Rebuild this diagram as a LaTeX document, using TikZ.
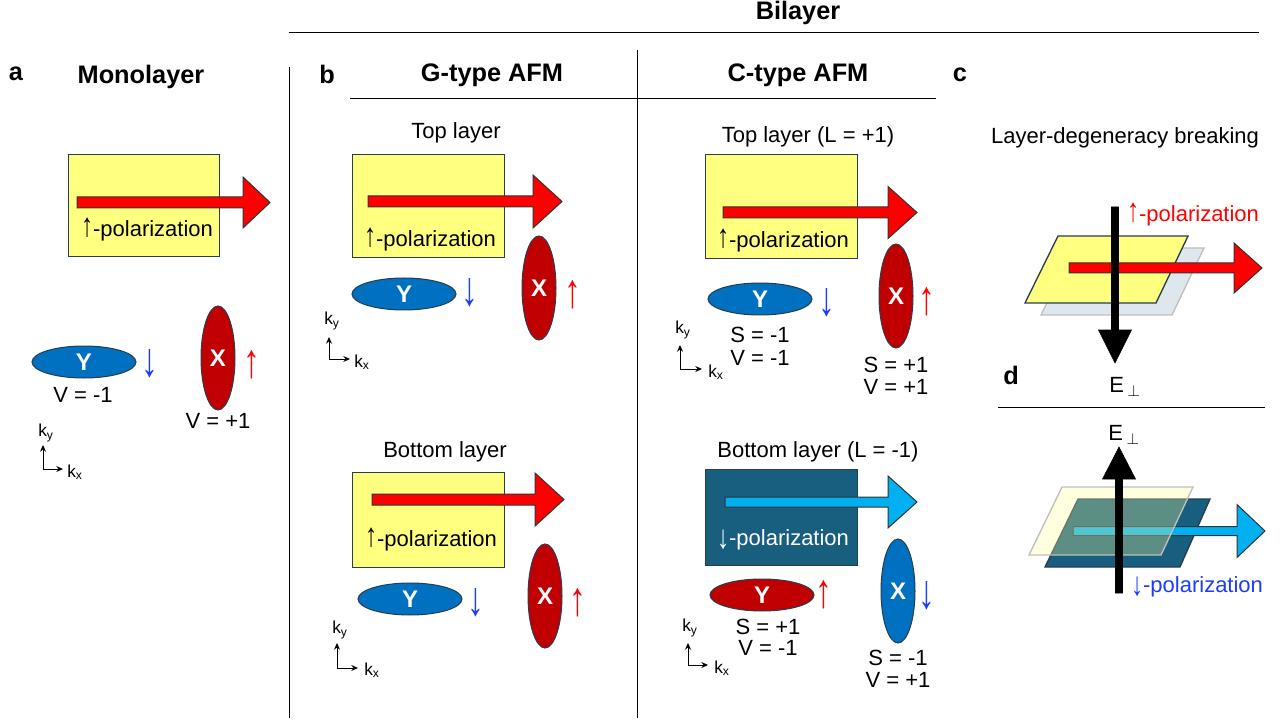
\documentclass[tikz,border=0pt]{standalone}
\usepackage{fontspec}
\setmainfont{Liberation Sans}
\usetikzlibrary{shapes.geometric,arrows.meta}
\definecolor{ylw}{RGB}{255,255,128}
\definecolor{bord}{RGB}{40,62,78}
\definecolor{ered}{RGB}{192,0,0}
\definecolor{eblue}{RGB}{0,112,192}
\definecolor{tblue}{RGB}{26,60,255}
\definecolor{ared}{RGB}{255,0,0}
\definecolor{dteal}{RGB}{23,94,127}
\definecolor{acyan}{RGB}{0,176,240}
\definecolor{pgray}{RGB}{222,230,238}
\definecolor{pgrayb}{RGB}{191,191,191}
\definecolor{lyel}{RGB}{255,255,150}
\newcommand{\blockarr}[7]{%
  \draw[#1] (#2,#3-#6) -- (#4,#3-#6) -- (#4,#3-#7) -- (#5,#3) -- (#4,#3+#7) -- (#4,#3+#6) -- (#2,#3+#6) -- cycle;}
\newcommand{\upa}{\scalebox{1.1}[1.5]{↑}}
\newcommand{\dna}{\raisebox{-0.1em}{\scalebox{1.1}[1.5]{↓}}}
\newcommand{\bigup}{\scalebox{1.4}[2.0]{↑}}
\newcommand{\bigdn}{\scalebox{1.4}[2.0]{↓}}
\begin{document}
\begin{tikzpicture}[x=0.75pt,y=-0.75pt,
  lbl/.style={font=\fontsize{16.5}{18}\selectfont, inner sep=0},
  hdr/.style={font=\fontsize{19}{22}\selectfont\bfseries, inner sep=0},
  ybox/.style={draw=bord, fill=ylw, line width=0.75pt, inner sep=0},
  dbox/.style={draw=bord, fill=dteal, line width=0.75pt, inner sep=0},
  ell/.style={ellipse, draw=bord, line width=0.75pt, inner sep=0, text=white, font=\fontsize{18}{20}\selectfont\bfseries},
  hell/.style={ell, minimum width=78pt, minimum height=24pt},
  vell/.style={ell, minimum width=25.5pt, minimum height=78pt},
  sym/.style={font=\fontsize{18}{20}\selectfont, inner sep=0},
  kax/.style={-{Stealth[length=5pt,width=4.5pt]}, line width=0.75pt},
  kl/.style={font=\fontsize{13}{15}\selectfont, inner sep=0},
  rule/.style={line width=0.75pt},
  redarr/.style={draw=black!80, fill=ared, line width=0.75pt},
  cyanarr/.style={draw=black!80, fill=acyan, line width=0.75pt},
  blkarr/.style={fill=black}
]
\useasboundingbox (0,0) rectangle (1285,720);

% ---------- headers and rules ----------
\node[hdr] (bil) at (798,13) {Bilayer};
\draw[rule] (289,33) -- (1259,33);
\draw[rule] (289,67) -- (289,718);
\draw[rule] (637,50) -- (637,718);
\draw[rule] (350,99) -- (936,99);
\draw[rule] (998,407) -- (1265,407);
\node[hdr] (la) at (16,74) {a};
\node[hdr] (mono) at (141,77) {Monolayer};
\node[hdr] (lb) at (327,74) {b};
\node[hdr] (gafm) at (492,75) {G-type AFM};
\node[hdr] (cafm) at (798,75) {C-type AFM};
\node[hdr] (lc) at (960,75) {c};

% ---------- panel a ----------
\node[ybox, minimum width=113.25pt, minimum height=76.5pt] (ra) at (143.5,206) {};
\blockarr{redarr}{77}{202.5}{243}{270}{5.5}{25.5}
\node[lbl] (pa) at (147,230) {\upa-polarization};
\node[hell, fill=eblue] (ya) at (84,362) {Y};
\node[sym, text=tblue] (yad) at (150,364) {\bigdn};
\node[lbl] (va1) at (83,395) {V = -1};
\node[vell, fill=ered] (xa) at (218,358) {X};
\node[sym, text=ared] (xau) at (252,365) {\bigup};
\node[lbl] (va2) at (218,421) {V = +1};
\coordinate (ao) at (43,469); \coordinate (ayy) at (43,445); \coordinate (axx) at (63,469);
\draw[kax] (ao) -- (ayy); \draw[kax] (ao) -- (axx);
\node[kl] (kya) at (46,433) {k\textsubscript{y}};
\node[kl] (kxa) at (75,472) {k\textsubscript{x}};

% ---------- panel b top ----------
\node[lbl] (tlg) at (456,133) {Top layer};
\node[ybox, minimum width=114pt, minimum height=77.25pt] (rbt) at (428,206.5) {};
\blockarr{redarr}{368}{201.5}{533}{562}{5.5}{26.5}
\node[lbl] (pbt) at (430,240) {\upa-polarization};
\node[hell, fill=eblue] (ybt) at (404,294) {Y};
\node[sym, text=tblue] (ybtd) at (470,293) {\bigdn};
\node[vell, fill=ered] (xbt) at (539,288) {X};
\node[sym, text=ared] (xbtu) at (573,295) {\bigup};
\coordinate (bo) at (329,359); \coordinate (byy) at (329,337); \coordinate (bxx) at (350,359);
\draw[kax] (bo) -- (byy); \draw[kax] (bo) -- (bxx);
\node[kl] (kyb) at (332,321) {k\textsubscript{y}};
\node[kl] (kxb) at (362,362) {k\textsubscript{x}};

% ---------- panel b bottom ----------
\node[lbl] (blg) at (445,452) {Bottom layer};
\node[ybox, minimum width=114pt, minimum height=71.25pt] (rbb) at (428,519.5) {};
\blockarr{redarr}{372}{499.5}{535}{564}{5.5}{26.5}
\node[lbl] (pbb) at (431,540) {\upa-polarization};
\node[hell, fill=eblue] (ybb) at (410,599) {Y};
\node[sym, text=tblue] (ybbd) at (476,603) {\bigdn};
\node[vell, fill=ered] (xbb) at (545,596) {X};
\node[sym, text=ared] (xbbu) at (578,603) {\bigup};
\coordinate (co) at (337,668); \coordinate (cyy) at (337,643); \coordinate (cxx) at (358,668);
\draw[kax] (co) -- (cyy); \draw[kax] (co) -- (cxx);
\node[kl] (kyc) at (340,630) {k\textsubscript{y}};
\node[kl] (kxc) at (372,670) {k\textsubscript{x}};

% ---------- panel C-type top ----------
\node[lbl] (tlc) at (808,137) {Top layer (L = +1)};
\node[ybox, minimum width=114pt, minimum height=78pt] (rct) at (781,207) {};
\blockarr{redarr}{723}{212.5}{888}{917}{5.5}{26}
\node[lbl] (pct) at (783,241) {\upa-polarization};
\node[hell, fill=eblue] (yct) at (760,299) {Y};
\node[sym, text=tblue] (yctd) at (827,303) {\bigdn};
\node[lbl] (sct1) at (760,335) {S = -1};
\node[lbl] (vct1) at (760,358) {V = -1};
\node[vell, fill=ered] (xct) at (896,296) {X};
\node[sym, text=ared] (xctu) at (927,302) {\bigup};
\node[lbl] (sct2) at (896,365) {S = +1};
\node[lbl] (vct2) at (896,387) {V = +1};
\coordinate (do) at (680,369); \coordinate (dyy) at (680,345); \coordinate (dxx) at (702,369);
\draw[kax] (do) -- (dyy); \draw[kax] (do) -- (dxx);
\node[kl] (kyd) at (683,330) {k\textsubscript{y}};
\node[kl] (kxd) at (716,372) {k\textsubscript{x}};

% ---------- panel C-type bottom ----------
\node[lbl] (blc) at (818,452) {Bottom layer (L = -1)};
\node[dbox, minimum width=114pt, minimum height=72pt] (rcb) at (781,517) {};
\blockarr{cyanarr}{725}{502}{888}{917}{5}{26}
\node[lbl, text=white] (pcb) at (783,540) {\dna-polarization};
\node[hell, fill=ered] (ycb) at (762,595) {Y};
\node[sym, text=ared] (ycbu) at (824,595) {\bigup};
\node[lbl] (scb1) at (768,627) {S = +1};
\node[lbl] (vcb1) at (768,648) {V = -1};
\node[vell, fill=eblue] (xcb) at (898,591) {X};
\node[sym, text=tblue] (xcbd) at (927,596) {\bigdn};
\node[lbl] (scb2) at (898,658) {S = -1};
\node[lbl] (vcb2) at (898,680) {V = +1};
\coordinate (eo) at (688,665); \coordinate (eyy) at (688,643); \coordinate (exx) at (708,665);
\draw[kax] (eo) -- (eyy); \draw[kax] (eo) -- (exx);
\node[kl] (kye) at (690,628) {k\textsubscript{y}};
\node[kl] (kxe) at (722,668) {k\textsubscript{x}};

% ---------- panel c ----------
\node[lbl] (ldb) at (1125,138) {Layer-degeneracy breaking};
\draw[fill=pgray, draw=pgrayb, line width=1pt] (1074,248) -- (1204,248) -- (1172,315) -- (1041,315) -- cycle;
\draw[fill=ylw, draw=bord, line width=1pt] (1058,236) -- (1188,236) -- (1156,303) -- (1025,303) -- cycle;
\blockarr{redarr}{1069}{268}{1234}{1262}{5}{25}
\draw[blkarr] (1111.5,207) -- (1118.5,207) -- (1118.5,330) -- (1131.5,330) -- (1115,363) -- (1098.5,330) -- (1111.5,330) -- cycle;
\node[lbl, text=ared] (pc) at (1193,215) {\upa-polarization};
\node[hdr] (ld) at (1011,375) {d};
\node[lbl] (ec) at (1125,387) {E\,\textsubscript{$\perp$}};

% ---------- panel d ----------
\node[lbl] (ed) at (1124,435) {E\,\textsubscript{$\perp$}};
\draw[fill=dteal, draw=bord, line width=1pt] (1078,499) -- (1210,499) -- (1180,567) -- (1045,567) -- cycle;
\blockarr{cyanarr}{1073}{531}{1237}{1265}{4.5}{26.5}
\draw[fill=lyel, fill opacity=0.3, draw=pgrayb, line width=1pt] (1062,487) -- (1193,487) -- (1161,555) -- (1029,555) -- cycle;
\draw[blkarr] (1115.5,593) -- (1122.5,593) -- (1122.5,479) -- (1135.5,479) -- (1119,447) -- (1102.5,479) -- (1115.5,479) -- cycle;
\node[lbl, text=tblue] (pd) at (1197,587) {\dna-polarization};
\end{tikzpicture}
\end{document}
